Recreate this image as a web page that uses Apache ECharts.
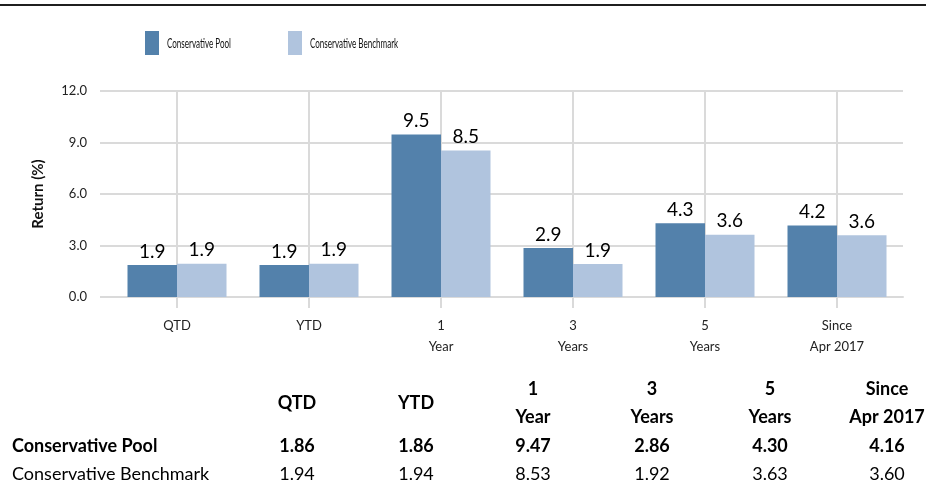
<!DOCTYPE html>
<html>
<head>
<meta charset="utf-8">
<script src="https://cdn.jsdelivr.net/npm/echarts@6/dist/echarts.min.js"></script>
<style>
html,body{margin:0;padding:0;background:#fff;}
#chart{width:926px;height:487px;}
</style>
</head>
<body>
<div id="chart"></div>
<script>
// ---- data ----
const categories = ['QTD', 'YTD', '1\nYear', '3\nYears', '5\nYears', 'Since\nApr 2017'];
const seriesNames = ['Conservative Pool', 'Conservative Benchmark'];
const poolValues = [1.86, 1.86, 9.47, 2.86, 4.30, 4.16];
const benchValues = [1.94, 1.94, 8.53, 1.92, 3.63, 3.60];
const yAxisTitle = 'Return (%)';

// ---- layout / style (not data) ----
const FONT = 'Lato, "Open Sans", sans-serif';
const colors = ['#5381ab', '#b0c4de'];
const tableColX = [297, 416, 533, 652, 770, 887];
const tableHeaderY = 403;
const tableRowY = [446, 474];
const tableLabelX = 12;
const legendItemX = [145, 288];
const legendY = 31;

const chart = echarts.init(document.getElementById('chart'), null, {renderer: 'canvas'});

const graphics = [
  {type: 'line', shape: {x1: 0, y1: 5, x2: 926, y2: 5}, style: {stroke: '#1f1f1f', lineWidth: 2}}
];
// custom legend (narrow text as in the reference)
seriesNames.forEach((n, i) => {
  graphics.push({type: 'rect', shape: {x: legendItemX[i], y: legendY, width: 14, height: 24},
    style: {fill: colors[i]}});
  graphics.push({type: 'text', x: legendItemX[i] + 22, y: legendY + 12, scaleX: 0.575,
    style: {text: n, fontFamily: FONT, fontSize: 14, fill: '#111', align: 'left', verticalAlign: 'middle'}});
});
// table
categories.forEach((c, i) => {
  graphics.push({type: 'text', x: tableColX[i], y: tableHeaderY,
    style: {text: c, fontFamily: FONT, fontSize: 18, fontWeight: 'bold', fill: '#000',
      align: 'center', verticalAlign: 'middle', lineHeight: 28}});
});
const rows = [poolValues, benchValues];
rows.forEach((vals, r) => {
  graphics.push({type: 'text', x: tableLabelX, y: tableRowY[r],
    style: {text: seriesNames[r], fontFamily: FONT, fontSize: 18, fontWeight: r === 0 ? 'bold' : 'normal',
      fill: '#000', align: 'left', verticalAlign: 'middle'}});
  vals.forEach((v, i) => {
    graphics.push({type: 'text', x: tableColX[i], y: tableRowY[r],
      style: {text: v.toFixed(2), fontFamily: FONT, fontSize: 18, fontWeight: r === 0 ? 'bold' : 'normal',
        fill: '#000', align: 'center', verticalAlign: 'middle'}});
  });
});

const gridColor = '#dadada';
const barLabel = {show: true, position: 'top', distance: 4, fontFamily: FONT, fontSize: 19, color: '#000',
  formatter: p => p.value.toFixed(1)};
const option = {
  animation: false,
  backgroundColor: '#fff',
  textStyle: {fontFamily: FONT},
  legend: {show: false, data: seriesNames},
  grid: {left: 111, right: 23, top: 91, bottom: 190, containLabel: false},
  xAxis: {
    type: 'category',
    data: categories,
    axisLine: {show: true, lineStyle: {color: gridColor, width: 2}},
    axisTick: {show: true, alignWithLabel: true, length: 11, lineStyle: {color: gridColor, width: 2}},
    splitLine: {show: true, alignWithLabel: true, lineStyle: {color: gridColor, width: 2}},
    axisLabel: {fontFamily: FONT, fontSize: 13, color: '#222', lineHeight: 21, margin: 18}
  },
  yAxis: {
    type: 'value',
    min: 0, max: 12, interval: 3,
    name: yAxisTitle,
    nameLocation: 'middle',
    nameGap: 65,
    nameTextStyle: {fontFamily: FONT, fontSize: 15, fontWeight: 'bold', color: '#111'},
    axisLine: {show: false},
    axisTick: {show: true, length: 11, lineStyle: {color: gridColor, width: 2}},
    splitLine: {show: true, lineStyle: {color: gridColor, width: 2}},
    axisLabel: {fontFamily: FONT, fontSize: 13, color: '#222', margin: 24, formatter: v => v.toFixed(1)}
  },
  series: [
    {
      name: seriesNames[0], type: 'bar', data: poolValues,
      barGap: '0%', barCategoryGap: '25%',
      itemStyle: {color: colors[0]},
      label: barLabel
    },
    {
      name: seriesNames[1], type: 'bar', data: benchValues,
      barGap: '0%', barCategoryGap: '25%',
      itemStyle: {color: colors[1]},
      label: barLabel
    }
  ],
  graphic: graphics
};
chart.setOption(option);
</script>
</body>
</html>
